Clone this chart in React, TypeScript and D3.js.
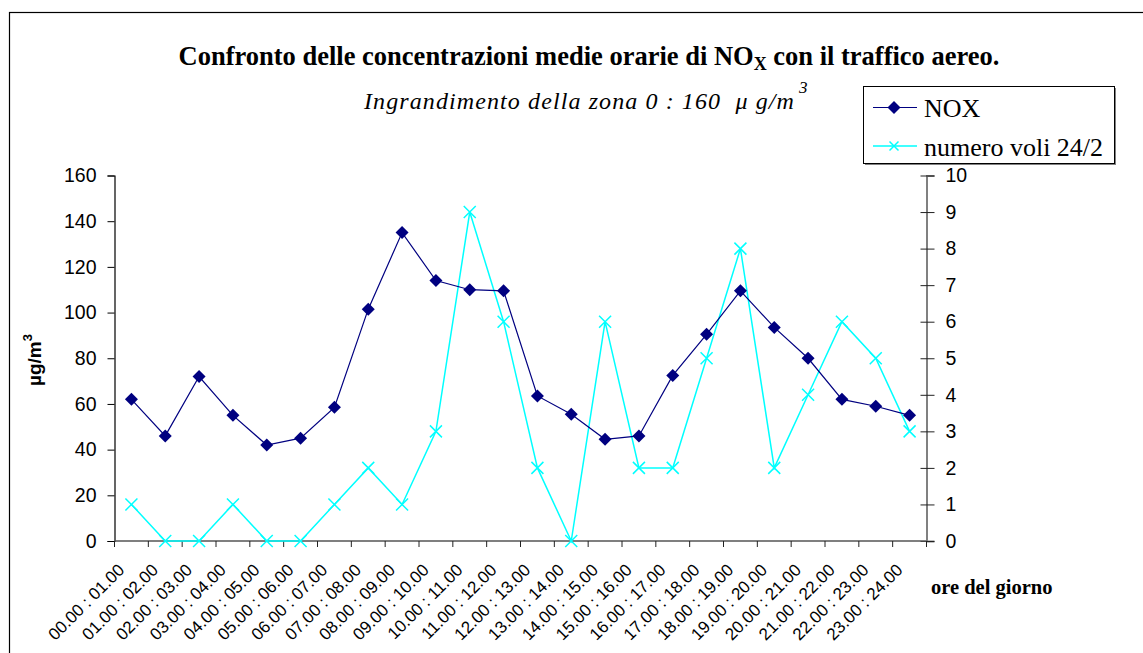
import React, { useEffect, useRef } from "react";
import * as d3 from "d3";

const W = 1143;
const H = 653;
const MARGIN = { top: 175.5, right: 216.5, bottom: 112, left: 114.5 };

const hours = [
  "00.00 : 01.00", "01.00 : 02.00", "02.00 : 03.00", "03.00 : 04.00",
  "04.00 : 05.00", "05.00 : 06.00", "06.00 : 07.00", "07.00 : 08.00",
  "08.00 : 09.00", "09.00 : 10.00", "10.00 : 11.00", "11.00 : 12.00",
  "12.00 : 13.00", "13.00 : 14.00", "14.00 : 15.00", "15.00 : 16.00",
  "16.00 : 17.00", "17.00 : 18.00", "18.00 : 19.00", "19.00 : 20.00",
  "20.00 : 21.00", "21.00 : 22.00", "22.00 : 23.00", "23.00 : 24.00",
];

const nox = [
  62, 46, 72, 55, 42, 45, 58.5, 101.5, 135, 114, 110, 109.5,
  63.5, 55.5, 44.5, 46, 72.5, 90.5, 109.5, 93.5, 80, 62, 59, 55,
];

const voli = [1, 0, 0, 1, 0, 0, 1, 2, 1, 3, 9, 6, 2, 0, 6, 2, 2, 5, 8, 2, 4, 6, 5, 3];

const leftTicks = [0, 20, 40, 60, 80, 100, 120, 140, 160];
const rightTicks = [0, 1, 2, 3, 4, 5, 6, 7, 8, 9, 10];

const SANS = "'Liberation Sans', Arial, sans-serif";
const SERIF = "'Liberation Serif', 'Times New Roman', serif";
const NAVY = "#000080";
const CYAN = "#00FFFF";

export default function App() {
  const ref = useRef<SVGGElement | null>(null);
  const innerW = W - MARGIN.left - MARGIN.right;
  const innerH = H - MARGIN.top - MARGIN.bottom;

  const x = d3.scaleBand<string>().domain(hours).range([0, innerW]).padding(0);
  const yL = d3.scaleLinear().domain([0, 160]).range([innerH, 0]);
  const yR = d3.scaleLinear().domain([0, 10]).range([innerH, 0]);
  const cx = (i: number) => (x(hours[i]) ?? 0) + x.bandwidth() / 2;

  useEffect(() => {
    const g = d3.select(ref.current);
    g.selectAll("*").remove();

    // left axis
    const la = g.append("g").call(d3.axisLeft(yL).tickValues(leftTicks).tickSize(7).tickPadding(11));
    la.select(".domain").attr("stroke", "#000").attr("stroke-width", 1.2);
    la.selectAll("line").attr("stroke", "#000");
    la.selectAll("text").attr("font-family", SANS).attr("font-size", 19.5).attr("fill", "#000");

    // right axis, ticks cross the line
    const ra = g
      .append("g")
      .attr("transform", `translate(${innerW},0)`)
      .call(d3.axisRight(yR).tickValues(rightTicks).tickSize(8).tickPadding(11));
    ra.select(".domain").attr("stroke", "#808080").attr("stroke-width", 2);
    ra.selectAll(".tick line").attr("stroke", "#222").attr("x1", -6);
    ra.selectAll("text").attr("font-family", SANS).attr("font-size", 19.5).attr("fill", "#000");

    // bottom axis, ticks at category boundaries
    const bg = g.append("g").attr("transform", `translate(0,${innerH})`);
    bg.append("line").attr("x1", 0).attr("x2", innerW).attr("stroke", "#555").attr("stroke-width", 1.5);
    bg.selectAll("line.tk")
      .data(d3.range(hours.length + 1))
      .join("line")
      .attr("class", "tk")
      .attr("x1", (i) => i * x.step())
      .attr("x2", (i) => i * x.step())
      .attr("y1", 0)
      .attr("y2", 6)
      .attr("stroke", "#222");
    bg.selectAll("text")
      .data(hours)
      .join("text")
      .attr("transform", (d, i) => `translate(${cx(i) - 6},${30}) rotate(-45)`)
      .attr("text-anchor", "end")
      .attr("font-family", SANS)
      .attr("font-size", 17)
      .attr("fill", "#000")
      .text((d) => d);

    // voli line
    const lineR = d3.line<number>().x((d, i) => cx(i)).y((d) => yR(d));
    g.append("path").attr("d", lineR(voli)).attr("fill", "none").attr("stroke", CYAN).attr("stroke-width", 1.5);
    g.selectAll("path.xm")
      .data(voli)
      .join("path")
      .attr("class", "xm")
      .attr("transform", (d, i) => `translate(${cx(i)},${yR(d)})`)
      .attr("d", "M-6,-6L6,6M-6,6L6,-6")
      .attr("stroke", CYAN)
      .attr("stroke-width", 1.5);

    // nox line
    const lineL = d3.line<number>().x((d, i) => cx(i)).y((d) => yL(d));
    g.append("path").attr("d", lineL(nox)).attr("fill", "none").attr("stroke", NAVY).attr("stroke-width", 1.2);
    g.selectAll("path.dm")
      .data(nox)
      .join("path")
      .attr("class", "dm")
      .attr("transform", (d, i) => `translate(${cx(i)},${yL(d)})`)
      .attr("d", "M0,-6.5L6.5,0L0,6.5L-6.5,0Z")
      .attr("fill", NAVY);
  }, []);

  return (
    <svg width={W} height={H} style={{ position: "absolute", left: 0, top: 0, background: "#fff" }}>
      <rect x={9.5} y={12.5} width={1200} height={1000} fill="#fff" stroke="#000" strokeWidth={1.2} />
      <text x={589} y={65} textAnchor="middle" fontFamily={SERIF} fontWeight="bold" fontSize={26.5}>
        Confronto delle concentrazioni medie orarie di NO
        <tspan fontSize={18} dy={5}>X</tspan>
        <tspan dy={-5}> con il traffico aereo.</tspan>
      </text>
      <text x={364} y={109} fontFamily={SERIF} fontStyle="italic" fontSize={24} letterSpacing={1.1}>
        Ingrandimento della zona 0 : 160{"\u00a0\u00a0"}μ g/m
        <tspan fontSize={17} dx={4} dy={-16}>3</tspan>
      </text>
      <g transform="translate(41,360) rotate(-90)">
        <text textAnchor="middle" fontFamily={SANS} fontWeight="bold" fontSize={19}>
          µg/m<tspan fontSize={13} dy={-9}>3</tspan>
        </text>
      </g>
      <text x={931} y={594} fontFamily={SERIF} fontWeight="bold" fontSize={20.5}>ore del giorno</text>
      <g>
        <rect x={865} y={88} width={251} height={77} fill="#808080" />
        <rect x={863.5} y={86.5} width={251} height={77} fill="#fff" stroke="#000" strokeWidth={1} />
        <line x1={873} x2={917} y1={107.5} y2={107.5} stroke={NAVY} strokeWidth={1.2} />
        <path d="M894,101L900.5,107.5L894,114L887.5,107.5Z" fill={NAVY} />
        <text x={924} y={117} fontFamily={SERIF} fontSize={26}>NOX</text>
        <line x1={873} x2={917} y1={146} y2={146} stroke={CYAN} strokeWidth={1.5} />
        <path d="M889.5,141.5L898.5,150.5M889.5,150.5L898.5,141.5" stroke={CYAN} strokeWidth={1.5} />
        <text x={924} y={156} fontFamily={SERIF} fontSize={26}>numero voli 24/2</text>
      </g>
      <g ref={ref} transform={`translate(${MARGIN.left},${MARGIN.top})`} />
    </svg>
  );
}
